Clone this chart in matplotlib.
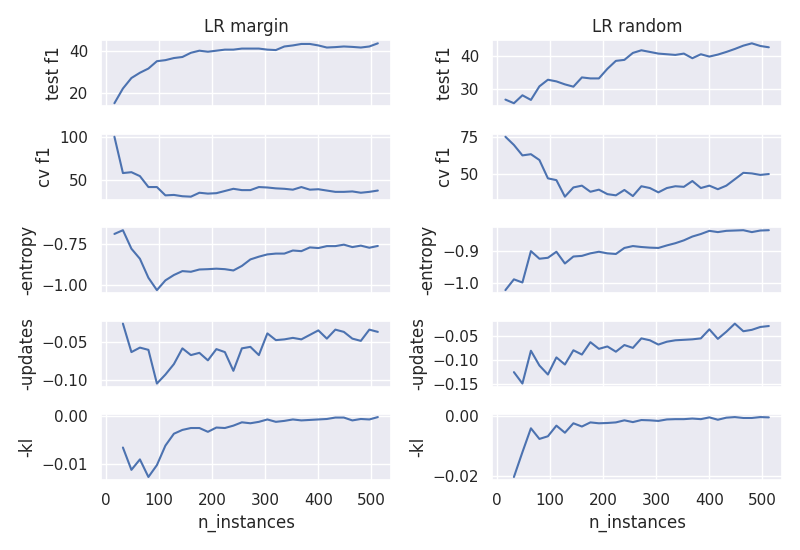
import numpy as np
import matplotlib
matplotlib.use("Agg")
import matplotlib.pyplot as plt
import seaborn as sns

sns.set_theme(style="darkgrid")

n_instances = np.arange(16, 513, 16)
n_instances_upd = n_instances[1:]

margin_test_f1 = [15, 22, 27, 29.5, 31.5, 35, 35.5, 36.5, 37, 39, 40, 39.5, 40, 40.5, 40.5, 41,
                  41, 41, 40.5, 40.3, 42, 42.5, 43.2, 43.2, 42.5, 41.5, 41.7, 42, 41.8, 41.5, 42, 43.5]
margin_cv_f1 = [100, 58.5, 59.5, 55, 42.5, 42.5, 33, 33.5, 32, 31.5, 36, 35, 35.5, 38, 40.5, 39,
                39, 42.5, 42, 41, 40.5, 39.5, 42.5, 39.5, 40, 38.5, 37, 37, 37.5, 36, 37, 38.5]
margin_entropy = [-0.686, -0.663, -0.777, -0.839, -0.956, -1.032, -0.972, -0.939, -0.915, -0.919,
                  -0.905, -0.903, -0.900, -0.903, -0.911, -0.883, -0.843, -0.826, -0.812, -0.807,
                  -0.807, -0.788, -0.792, -0.769, -0.773, -0.761, -0.761, -0.752, -0.767, -0.758,
                  -0.771, -0.760]
margin_updates = [-0.025, -0.063, -0.057, -0.060, -0.105, -0.093, -0.079, -0.058, -0.067, -0.064,
                  -0.074, -0.059, -0.063, -0.088, -0.058, -0.056, -0.067, -0.038, -0.047, -0.046,
                  -0.044, -0.046, -0.040, -0.034, -0.045, -0.033, -0.036, -0.045, -0.048, -0.033,
                  -0.036]
margin_kl = [-0.0066, -0.0113, -0.0091, -0.0128, -0.0103, -0.0062, -0.0037, -0.0029, -0.0025,
             -0.0025, -0.0033, -0.0024, -0.0025, -0.0020, -0.0013, -0.0015, -0.0012, -0.0007,
             -0.0012, -0.0010, -0.0007, -0.0009, -0.0008, -0.0007, -0.0006, -0.0003, -0.0003,
             -0.0009, -0.0006, -0.0007, -0.0002]

random_test_f1 = [26.9, 25.8, 28.2, 26.8, 30.9, 32.9, 32.4, 31.5, 30.8, 33.6, 33.3, 33.3, 36.2,
                  38.6, 38.9, 41, 41.8, 41.3, 40.8, 40.6, 40.4, 40.8, 39.4, 40.6, 39.9, 40.5,
                  41.3, 42.2, 43.2, 43.9, 43.1, 42.7]
random_cv_f1 = [75, 69.5, 62.5, 63.3, 59.4, 47.1, 45.9, 34.8, 41, 42.2, 38.1, 39.5, 36.5, 35.7,
                39.3, 35.2, 41.8, 40.6, 37.7, 40.6, 41.8, 41.4, 45.3, 40.6, 42.2, 39.8, 42.2,
                46.5, 50.8, 50.4, 49.4, 50]
random_entropy = [-1.024, -0.990, -1.0, -0.901, -0.925, -0.922, -0.903, -0.940, -0.918, -0.916,
                  -0.908, -0.903, -0.908, -0.910, -0.891, -0.885, -0.888, -0.890, -0.891, -0.883,
                  -0.876, -0.867, -0.855, -0.847, -0.837, -0.841, -0.837, -0.836, -0.835, -0.841,
                  -0.836, -0.835]
random_updates = [-0.125, -0.149, -0.080, -0.111, -0.130, -0.094, -0.109, -0.079, -0.088, -0.062,
                  -0.076, -0.071, -0.082, -0.068, -0.074, -0.054, -0.058, -0.067, -0.061, -0.058,
                  -0.057, -0.056, -0.054, -0.035, -0.055, -0.040, -0.023, -0.039, -0.036, -0.030,
                  -0.028]
random_kl = [-0.0205, -0.0121, -0.0040, -0.0076, -0.0067, -0.0031, -0.0055, -0.0023, -0.0034,
             -0.0020, -0.0023, -0.0022, -0.0020, -0.0013, -0.0019, -0.0012, -0.0013, -0.0015,
             -0.0010, -0.0009, -0.0009, -0.0007, -0.0009, -0.0003, -0.0011, -0.0004, -0.0002,
             -0.0005, -0.0005, -0.0002, -0.0003]

labels = ["test f1", "cv f1", "-entropy", "-updates", "-kl"]
columns = {
    "LR margin": [margin_test_f1, margin_cv_f1, margin_entropy, margin_updates, margin_kl],
    "LR random": [random_test_f1, random_cv_f1, random_entropy, random_updates, random_kl],
}

fig, axes = plt.subplots(5, 2, figsize=(8, 5.5), dpi=100, sharex="col")
for j, (title, series) in enumerate(columns.items()):
    for i, (lab, vals) in enumerate(zip(labels, series)):
        ax = axes[i, j]
        x = n_instances if len(vals) == len(n_instances) else n_instances_upd
        ax.plot(x, vals, color="#4c72b0")
        ax.set_ylabel(lab)
    axes[0, j].set_title(title)
    axes[-1, j].set_xlabel("n_instances")
    axes[-1, j].set_xticks([0, 100, 200, 300, 400, 500])

plt.tight_layout()
plt.savefig("out.png")
